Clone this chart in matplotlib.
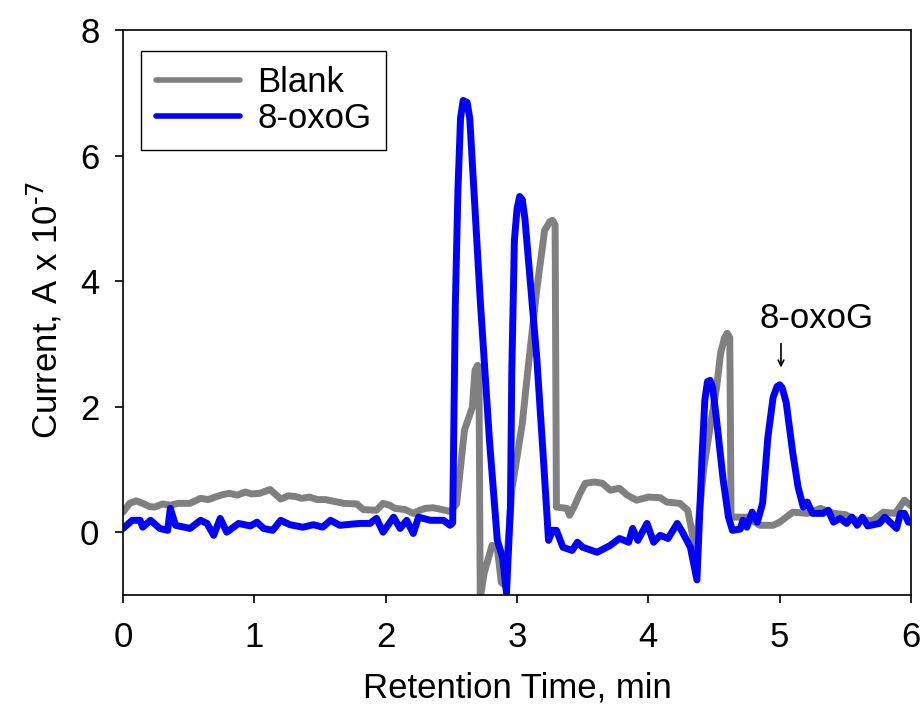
import matplotlib
matplotlib.use("Agg")
import matplotlib.pyplot as plt

plt.rcParams['font.family'] = ['Liberation Sans', 'DejaVu Sans']
plt.rcParams['mathtext.default'] = 'regular'

# Blank trace (time in min, current in A x 1e-7)
blank_t = [0.00, 0.05, 0.10, 0.15, 0.20, 0.24, 0.30, 0.36, 0.42, 0.51, 0.59, 0.65,
           0.70, 0.76, 0.81, 0.87, 0.93, 0.98, 1.04, 1.12, 1.20, 1.26, 1.31, 1.36,
           1.42, 1.48, 1.54, 1.61, 1.68, 1.78, 1.83, 1.93, 1.98, 2.03, 2.07, 2.15,
           2.21, 2.26, 2.30, 2.36, 2.41, 2.49, 2.54, 2.60, 2.66, 2.68, 2.70, 2.71,
           2.72, 2.75, 2.81, 2.85, 2.88, 2.91, 2.96, 3.04, 3.08, 3.15, 3.21, 3.25,
           3.27, 3.29, 3.30, 3.38, 3.40, 3.44, 3.48, 3.52, 3.59, 3.65, 3.71, 3.78,
           3.84, 3.91, 4.00, 4.09, 4.14, 4.24, 4.30, 4.36, 4.42, 4.47, 4.52, 4.55,
           4.58, 4.60, 4.62, 4.63, 4.75, 4.85, 4.95, 5.00, 5.10, 5.21, 5.31, 5.41,
           5.50, 5.59, 5.71, 5.79, 5.88, 5.95, 6.00]
blank_i = [0.32, 0.46, 0.50, 0.46, 0.41, 0.40, 0.45, 0.43, 0.46, 0.46, 0.54, 0.52,
           0.56, 0.60, 0.62, 0.59, 0.64, 0.61, 0.62, 0.68, 0.53, 0.58, 0.57, 0.54,
           0.56, 0.52, 0.52, 0.49, 0.46, 0.45, 0.36, 0.35, 0.46, 0.43, 0.38, 0.36,
           0.30, 0.35, 0.38, 0.39, 0.37, 0.33, 0.45, 1.63, 1.99, 2.58, 2.66, 2.62,
           -1.05, -0.65, -0.21, -0.25, -0.80, -0.85, 0.67, 1.73, 2.53, 3.86, 4.81, 4.95,
           4.97, 4.90, 0.40, 0.38, 0.27, 0.43, 0.62, 0.78, 0.80, 0.78, 0.67, 0.70,
           0.59, 0.51, 0.56, 0.55, 0.48, 0.46, 0.35, -0.30, 0.99, 1.67, 2.31, 2.85,
           3.10, 3.17, 3.10, 0.24, 0.24, 0.11, 0.11, 0.16, 0.32, 0.30, 0.38, 0.30,
           0.28, 0.19, 0.19, 0.32, 0.30, 0.51, 0.42]

# 8-oxoG trace
oxog_t = [0.00, 0.07, 0.13, 0.15, 0.21, 0.28, 0.34, 0.36, 0.40, 0.51, 0.59, 0.64,
          0.69, 0.74, 0.79, 0.88, 0.97, 1.02, 1.07, 1.14, 1.20, 1.27, 1.37, 1.45,
          1.52, 1.58, 1.65, 1.80, 1.88, 1.93, 1.98, 2.06, 2.11, 2.16, 2.21, 2.25,
          2.34, 2.44, 2.49, 2.51, 2.53, 2.55, 2.57, 2.59, 2.62, 2.64, 2.72, 2.79,
          2.85, 2.89, 2.92, 2.95, 2.96, 2.98, 3.00, 3.02, 3.04, 3.06, 3.15, 3.20,
          3.24, 3.27, 3.30, 3.35, 3.42, 3.46, 3.50, 3.61, 3.71, 3.78, 3.85, 3.88,
          3.92, 3.99, 4.04, 4.09, 4.15, 4.22, 4.26, 4.32, 4.37, 4.41, 4.43, 4.45,
          4.47, 4.49, 4.52, 4.57, 4.61, 4.64, 4.70, 4.72, 4.75, 4.79, 4.83, 4.87,
          4.91, 4.95, 4.98, 5.00, 5.02, 5.05, 5.10, 5.14, 5.18, 5.21, 5.25, 5.33,
          5.37, 5.41, 5.46, 5.51, 5.55, 5.59, 5.63, 5.67, 5.76, 5.80, 5.89, 5.92,
          5.95, 5.98, 6.00]
oxog_i = [0.06, 0.19, 0.19, 0.08, 0.19, 0.06, 0.03, 0.38, 0.11, 0.06, 0.19, 0.14,
          -0.05, 0.22, 0.00, 0.14, 0.10, 0.16, 0.06, 0.03, 0.19, 0.12, 0.08, 0.12,
          0.08, 0.19, 0.11, 0.14, 0.14, 0.22, 0.00, 0.24, 0.06, 0.19, -0.02, 0.24,
          0.19, 0.19, 0.11, 0.15, 3.59, 5.45, 6.60, 6.88, 6.85, 6.60, 3.70, 1.47,
          -0.13, -0.40, -0.97, 0.40, 2.53, 4.65, 5.15, 5.35, 5.30, 5.00, 2.79, 1.20,
          -0.13, 0.03, 0.03, -0.24, -0.29, -0.16, -0.24, -0.32, -0.21, -0.10, -0.16, 0.06,
          -0.13, 0.14, -0.16, -0.05, -0.10, 0.14, 0.00, -0.24, -0.76, 1.26, 2.10, 2.40,
          2.42, 2.30, 1.78, 0.83, 0.24, 0.03, 0.05, 0.19, 0.08, 0.32, 0.16, 0.46,
          1.51, 2.15, 2.32, 2.35, 2.30, 2.06, 1.26, 0.72, 0.40, 0.48, 0.30, 0.30,
          0.35, 0.16, 0.22, 0.14, 0.24, 0.11, 0.24, 0.10, 0.14, 0.24, 0.06, 0.30,
          0.30, 0.16, 0.16]

FS = 25

fig = plt.figure(figsize=(9.23, 7.19), dpi=100)
ax = fig.add_axes([0.1333, 0.1725, 0.8537, 0.7855])

ax.plot(blank_t, blank_i, color='#808080', lw=5.0, label='Blank',
        solid_joinstyle='round', solid_capstyle='round')
ax.plot(oxog_t, oxog_i, color='#0000FF', lw=5.0, label='8-oxoG',
        solid_joinstyle='round', solid_capstyle='round')

ax.set_xlim(0, 6)
ax.set_ylim(-1, 8)
ax.set_xticks(range(0, 7))
ax.set_yticks([0, 2, 4, 6, 8])
ax.tick_params(direction='out', length=6, width=1.2, labelsize=FS,
               top=False, right=False)
ax.tick_params(axis='x', pad=13)
ax.tick_params(axis='y', pad=11)
for s in ax.spines.values():
    s.set_linewidth(1.2)

ax.set_xlabel('Retention Time, min', fontsize=FS, va='center')
ax.xaxis.set_label_coords(0.5, -0.165)
ax.set_ylabel('Current, A x 10$^{\\text{-7}}$', fontsize=FS, va='center')
ax.yaxis.set_label_coords(-0.099, 0.505)

# peak annotation
ax.annotate('8-oxoG', xy=(5.01, 2.58), xytext=(5.28, 3.40),
            fontsize=FS, ha='center', va='center')
ax.annotate('', xy=(5.01, 2.58), xytext=(5.01, 3.05),
            arrowprops=dict(arrowstyle='->', color='black', lw=1.2))

leg = ax.legend(loc='upper left', bbox_to_anchor=(0.023, 0.963), borderaxespad=0,
                fontsize=FS, fancybox=False, edgecolor='black', framealpha=1,
                handlelength=2.42, handletextpad=0.5, labelspacing=0.1,
                borderpad=0.42)
leg.get_frame().set_linewidth(1.0)
for line in leg.get_lines():
    line.set_linewidth(4.0)

fig.savefig('out.png', dpi=100)
